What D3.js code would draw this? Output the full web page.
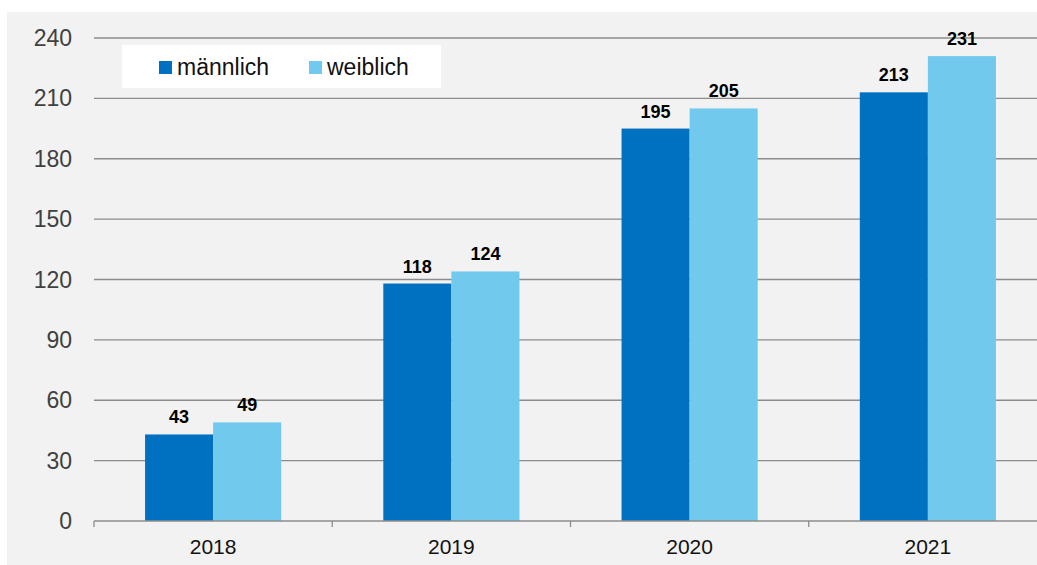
<!DOCTYPE html>
<html>
<head>
<meta charset="utf-8">
<script src="https://cdn.jsdelivr.net/npm/d3@7"></script>
<style>
  body { margin: 0; background: #fff; }
  svg text { font-family: "Liberation Sans", Arial, sans-serif; }
</style>
</head>
<body>
<svg id="chart"></svg>
<script>
const years = ["2018", "2019", "2020", "2021"];
const maleValues = [43, 118, 195, 213];
const femaleValues = [49, 124, 205, 231];
const seriesNames = ["männlich", "weiblich"];
const yTicks = [0, 30, 60, 90, 120, 150, 180, 210, 240];

const chartSize = { width: 1037, height: 565 };
const plot = { left: 94, right: 1047, top: 38, bottom: 521 };
const colors = ["#0070c0", "#72c9ee"];

const svg = d3.select("#chart")
  .attr("width", chartSize.width)
  .attr("height", chartSize.height);

svg.append("rect")
  .attr("x", 7).attr("y", 12)
  .attr("width", chartSize.width - 7).attr("height", chartSize.height - 12)
  .attr("fill", "#f2f2f2");

const y = d3.scaleLinear().domain([0, 240]).range([plot.bottom, plot.top]);
const x = d3.scaleBand().domain(years).range([plot.left, plot.right]);
const inner = d3.scaleBand().domain([0, 1])
  .range([0, x.bandwidth()]).paddingOuter(0.75).paddingInner(0);

// gridlines
svg.append("g")
  .selectAll("line")
  .data(yTicks.filter(d => d > 0))
  .join("line")
  .attr("x1", plot.left).attr("x2", plot.right)
  .attr("y1", d => y(d)).attr("y2", d => y(d))
  .attr("stroke", "#8c8c8c").attr("stroke-width", 1.3);

// y tick labels
svg.append("g")
  .selectAll("text")
  .data(yTicks)
  .join("text")
  .attr("x", 72)
  .attr("y", d => y(d))
  .attr("dy", "0.35em")
  .attr("text-anchor", "end")
  .attr("font-size", 23)
  .attr("fill", "#404040")
  .text(d => d);

// bars
const groups = svg.append("g")
  .selectAll("g")
  .data(years.map((yr, i) => ({ yr, vals: [maleValues[i], femaleValues[i]] })))
  .join("g")
  .attr("transform", d => `translate(${x(d.yr)},0)`);

groups.selectAll("rect")
  .data(d => d.vals)
  .join("rect")
  .attr("x", (v, i) => inner(i))
  .attr("y", v => y(v))
  .attr("width", inner.bandwidth())
  .attr("height", v => y(0) - y(v))
  .attr("fill", (v, i) => colors[i]);

groups.selectAll("text")
  .data(d => d.vals)
  .join("text")
  .attr("x", (v, i) => inner(i) + inner.bandwidth() / 2)
  .attr("y", v => y(v) - 11)
  .attr("text-anchor", "middle")
  .attr("font-size", 18)
  .attr("font-weight", "bold")
  .attr("fill", "#000")
  .text(v => v);

// x axis
const xAxis = svg.append("g").attr("transform", `translate(0,${plot.bottom})`);
xAxis.append("line")
  .attr("x1", plot.left).attr("x2", plot.right)
  .attr("stroke", "#8c8c8c").attr("stroke-width", 1.3);
xAxis.selectAll(".tick")
  .data(years)
  .join("line")
  .attr("x1", d => x(d)).attr("x2", d => x(d))
  .attr("y1", 0).attr("y2", 6)
  .attr("stroke", "#8c8c8c").attr("stroke-width", 1.3);
xAxis.selectAll("text")
  .data(years)
  .join("text")
  .attr("x", d => x(d) + x.bandwidth() / 2)
  .attr("y", 33)
  .attr("text-anchor", "middle")
  .attr("font-size", 21)
  .attr("fill", "#111")
  .text(d => d);

// legend
const legend = svg.append("g");
legend.append("rect")
  .attr("x", 122).attr("y", 45)
  .attr("width", 319).attr("height", 43)
  .attr("fill", "#fff");
const legendX = [159, 309];
seriesNames.forEach((name, i) => {
  legend.append("rect")
    .attr("x", legendX[i]).attr("y", 61)
    .attr("width", 13).attr("height", 13)
    .attr("fill", colors[i]);
  legend.append("text")
    .attr("x", legendX[i] + 18).attr("y", 75)
    .attr("font-size", 23)
    .attr("fill", "#111")
    .text(name);
});
</script>
</body>
</html>
